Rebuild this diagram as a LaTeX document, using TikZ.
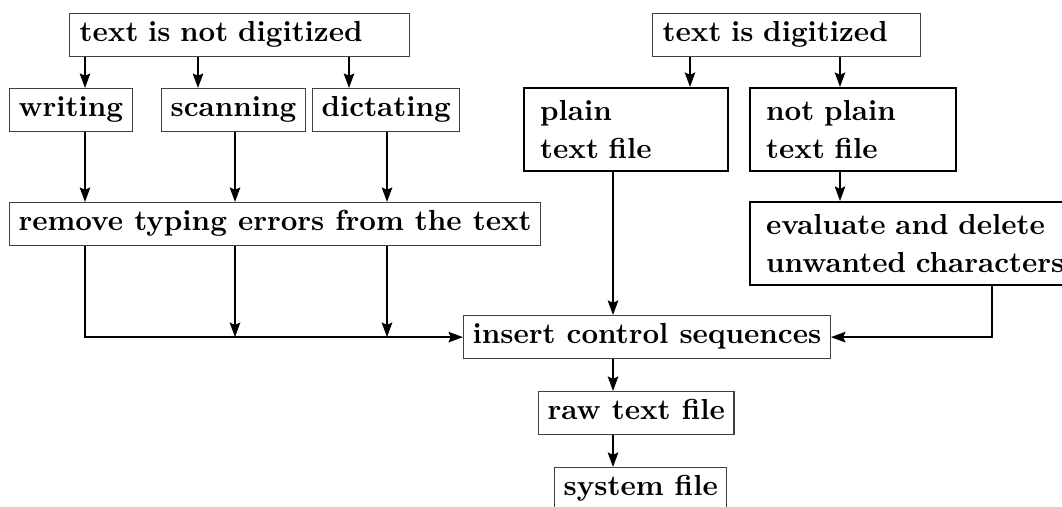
\documentclass[tikz,border=0pt]{standalone}
\usetikzlibrary{arrows.meta}
\begin{document}
\begin{tikzpicture}[
  x=0.3448pt, y=-0.3448pt,
  font=\bfseries\fontsize{10pt}{13.1pt}\selectfont,
  thinbox/.style={draw=black!75, line width=0.45pt, inner xsep=3.1pt, inner ysep=0pt,
                  text height=9.7pt, text depth=5.1pt, anchor=north west},
  fixbox/.style={thinbox, align=left, inner xsep=3.45pt},
  thickbox/.style={draw=black, line width=0.85pt, inner xsep=5.5pt, inner ysep=0pt,
                   minimum height=28.6pt, align=left, anchor=north west},
  arr/.style={line width=0.75pt, -{Stealth[length=5pt, width=3.6pt, inset=0.8pt]}},
  ln/.style={line width=0.75pt}
]
\useasboundingbox (0,0) rectangle (1062,506);
\clip (0,0) rectangle (1062,506);

% boxes
\node[fixbox, text width=110.3pt] (notdig) at (69,13) {text is not digitized};
\node[fixbox, text width=85.5pt] (dig) at (652,13) {text is digitized};
\node[thinbox] (writing) at (9,88) {writing};
\node[thinbox] (scanning) at (161,88) {scanning};
\node[thinbox] (dictating) at (312,88) {dictating};
\node[thickbox, text width=59.3pt] (plain) at (523,87) {plain\\text file};
\node[thickbox, text width=60pt] (notplain) at (749,87) {not plain\\text file};
\node[thinbox] (remove) at (9,202) {remove typing errors from the text};
\node[thickbox, text width=104.9pt] (evaluate) at (749,201) {evaluate and delete\\unwanted characters};
\node[thinbox] (insert) at (463,315) {insert control sequences};
\node[thinbox] (raw) at (538,391) {raw text file};
\node[thinbox] (system) at (554,467) {system file};

% columns of the connectors
\coordinate (c85) at (85,0);
\coordinate (c198) at (198,0);
\coordinate (c349) at (349,0);
\coordinate (c235) at (235,0);
\coordinate (c387) at (387,0);
\coordinate (c690) at (690,0);
\coordinate (c840) at (840,0);
\coordinate (c613) at (613,0);
\coordinate (c992) at (992,0);

% connectors
\draw[arr] (notdig.south -| c85) -- (writing.north -| c85);
\draw[arr] (notdig.south -| c198) -- (scanning.north -| c198);
\draw[arr] (notdig.south -| c349) -- (dictating.north -| c349);
\draw[arr] (dig.south -| c690) -- (plain.north -| c690);
\draw[arr] (dig.south -| c840) -- (notplain.north -| c840);
\draw[arr] (notplain.south -| c840) -- (evaluate.north -| c840);

\draw[arr] (writing.south -| c85) -- (remove.north -| c85);
\draw[arr] (scanning.south -| c235) -- (remove.north -| c235);
\draw[arr] (dictating.south -| c387) -- (remove.north -| c387);

\draw[arr] (remove.south -| c85) -- (insert.west -| c85) -- (insert.west);
\draw[arr] (remove.south -| c235) -- (insert.west -| c235);
\draw[arr] (remove.south -| c387) -- (insert.west -| c387);
\draw[arr] (plain.south -| c613) -- (insert.north -| c613);
\draw[arr] (evaluate.south -| c992) -- (insert.east -| c992) -- (insert.east);

\draw[arr] (insert.south -| c613) -- (raw.north -| c613);
\draw[arr] (raw.south -| c613) -- (system.north -| c613);
\end{tikzpicture}
\end{document}
